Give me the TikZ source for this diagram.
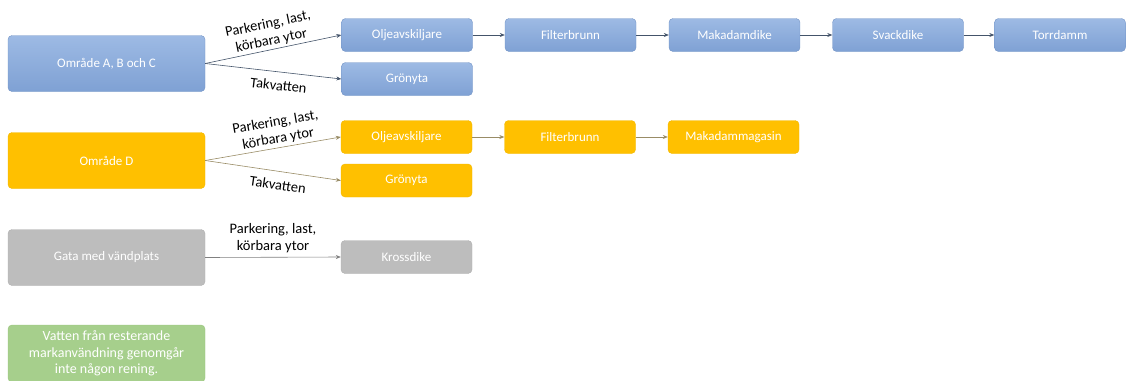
\documentclass[tikz,border=0pt]{standalone}
\usepackage{fontspec}
\setmainfont{Carlito}
\usetikzlibrary{arrows.meta,positioning}

\definecolor{atop}{HTML}{9DBAE4}
\definecolor{abot}{HTML}{7FA1D4}
\definecolor{aline}{HTML}{7394C6}
\definecolor{dfill}{HTML}{FFC000}
\definecolor{dline}{HTML}{F2B800}
\definecolor{gfill}{HTML}{BDBDBD}
\definecolor{gline}{HTML}{B0B0B0}
\definecolor{vfill}{HTML}{A6CF8C}
\definecolor{vline}{HTML}{98C47C}
\definecolor{arr}{HTML}{44546A}

\begin{document}
\begin{tikzpicture}[x=1pt,y=-1pt,
    stepbox/.style={rounded corners=4pt, text=white, inner sep=0pt, align=center,
      font=\fontsize{13}{14}\selectfont, minimum width=131pt, minimum height=33pt},
    areabox/.style={stepbox, minimum width=197pt, minimum height=56pt},
    abox/.style={top color=atop, bottom color=abot, draw=aline},
    dbox/.style={fill=dfill, draw=dline},
    gbox/.style={fill=gfill, draw=gline},
    vbox/.style={fill=vfill, draw=vline},
    flow/.style={-{Stealth[length=5pt,width=4pt]}, draw=arr, line width=0.6pt},
    lbl/.style={font=\fontsize{14.5}{17}\selectfont, align=center, text=black, inner sep=1pt}]
  \useasboundingbox (0,0) rectangle (1126,380);

  % rad 1: omrade A, B och C
  \node[areabox, abox] (abc) at (106.5,63.5) {Område A, B och C};
  \node[stepbox, abox] (olja) at (407,35) {Oljeavskiljare};
  \node[stepbox, abox] (grona) at (407,79) {Grönyta};
  \node[stepbox, abox] (filta) at (570.5,35) {Filterbrunn};
  \node[stepbox, abox] (maka) at (734.5,35) {Makadamdike};
  \node[stepbox, abox] (svaa) at (898,35) {Svackdike};
  \node[stepbox, abox] (torra) at (1060,35) {Torrdamm};

  \draw[flow] (abc.east) -- node[lbl, midway, above=1pt, sloped] {Parkering, last,\\körbara ytor} (olja.west);
  \draw[flow] (abc.east) -- node[lbl, pos=0.55, below=7pt, sloped] {Takvatten} (grona.west);
  \draw[flow] (olja) -- (filta);
  \draw[flow] (filta) -- (maka);
  \draw[flow] (maka) -- (svaa);
  \draw[flow] (svaa) -- (torra);

  % rad 2: omrade D
  \node[areabox, dbox] (omd) at (106.5,160.5) {Område D};
  \node[stepbox, dbox] (oljd) at (406.5,137) {Oljeavskiljare};
  \node[stepbox, dbox] (grond) at (406.5,180.5) {Grönyta};
  \node[stepbox, dbox] (filtd) at (570,137) {Filterbrunn};
  \node[stepbox, dbox] (magd) at (733.5,137) {Makadammagasin};

  \draw[flow, draw=gray!80!dfill] (omd.east) -- node[lbl, pos=0.55, above=1pt, sloped] {Parkering, last,\\körbara ytor} (oljd.west);
  \draw[flow, draw=gray!80!dfill] (omd.east) -- node[lbl, pos=0.55, below=7pt, sloped] {Takvatten} (grond.west);
  \draw[flow, draw=gray!80!dfill] (oljd) -- (filtd);
  \draw[flow, draw=gray!80!dfill] (filtd) -- (magd);

  % rad 3: gata
  \node[areabox, gbox] (gata) at (106.5,257.5) {Gata med vändplats};
  \node[stepbox, gbox] (kross) at (406.5,257) {Krossdike};
  \draw[flow, draw=gray] (gata.east) -- node[lbl, midway, above=3pt] {Parkering, last,\\körbara ytor} (kross.west);

  % rad 4: ovrigt
  \node[areabox, vbox, minimum height=57pt, font=\fontsize{14}{16.5}\selectfont] (rest) at (106.5,353.5) {Vatten från resterande\\markanvändning genomgår\\inte någon rening.};
\end{tikzpicture}
\end{document}
